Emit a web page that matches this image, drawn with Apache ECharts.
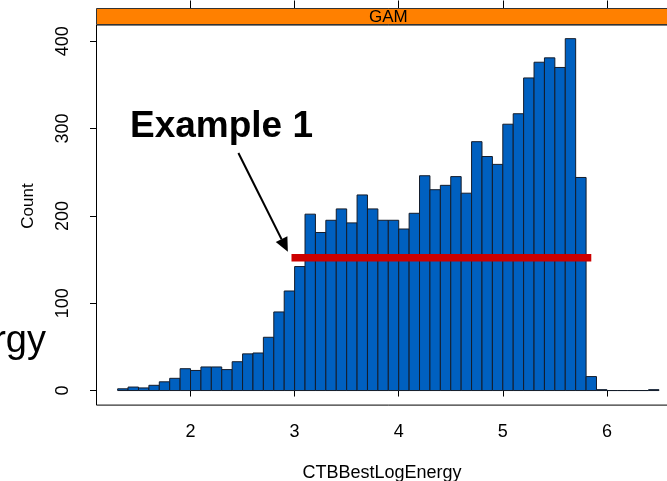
<!DOCTYPE html>
<html>
<head>
<meta charset="utf-8">
<script src="https://cdn.jsdelivr.net/npm/echarts@6/dist/echarts.min.js"></script>
<style>
  html, body { margin: 0; padding: 0; background: #ffffff; overflow: hidden; width: 667px; height: 481px; }
  /* the drawing surface is wider than the window: the panel runs off the right edge */
  #chart { width: 700px; height: 481px; }
</style>
</head>
<body>
<div id="chart"></div>
<script>
// Histogram of CTBBestLogEnergy for the GAM panel (bins of width 0.1)
const binLeft = [
  1.3, 1.4, 1.5, 1.6, 1.7, 1.8, 1.9, 2.0, 2.1, 2.2,
  2.3, 2.4, 2.5, 2.6, 2.7, 2.8, 2.9, 3.0, 3.1, 3.2,
  3.3, 3.4, 3.5, 3.6, 3.7, 3.8, 3.9, 4.0, 4.1, 4.2,
  4.3, 4.4, 4.5, 4.6, 4.7, 4.8, 4.9, 5.0, 5.1, 5.2,
  5.3, 5.4, 5.5, 5.6, 5.7, 5.8, 5.9, 6.0, 6.1, 6.2,
  6.3, 6.4
];
const binRight = [
  1.4, 1.5, 1.6, 1.7, 1.8, 1.9, 2.0, 2.1, 2.2, 2.3,
  2.4, 2.5, 2.6, 2.7, 2.8, 2.9, 3.0, 3.1, 3.2, 3.3,
  3.4, 3.5, 3.6, 3.7, 3.8, 3.9, 4.0, 4.1, 4.2, 4.3,
  4.4, 4.5, 4.6, 4.7, 4.8, 4.9, 5.0, 5.1, 5.2, 5.3,
  5.4, 5.5, 5.6, 5.7, 5.8, 5.9, 6.0, 6.1, 6.2, 6.3,
  6.4, 6.5
];
const counts = [
  2, 4, 3, 6, 10, 14, 25, 23, 27, 27,
  24, 33, 42, 43, 61, 90, 114, 142, 202, 181,
  195, 208, 192, 224, 208, 195, 195, 185, 203, 246,
  230, 235, 245, 226, 285, 268, 259, 305, 317, 358,
  376, 381, 370, 403, 244, 16, 1, 0, 0, 0,
  0, 1
];

const xTicks = [2, 3, 4, 5, 6];
const yTicks = [0, 100, 200, 300, 400];

const panelName = 'GAM';
const xTitle = 'CTBBestLogEnergy';
const yTitle = 'Count';
const calloutText = 'Example 1';
const sideText = 'Energy';

// Reference level drawn across the histogram
const refLevel = [152];
const refSpan = [2.97, 5.85];
// Arrow pointing from the callout to the left end of the reference level
const arrowTail = [2.46, 272];
const arrowHead = [2.935, 159];

const FONT = '"Liberation Sans", Arial, Helvetica, sans-serif';

const histData = binLeft.map((l, i) => [l, binRight[i], counts[i]]);

const chart = echarts.init(document.getElementById('chart'), null, { renderer: 'canvas' });

const grid = { left: 96, width: 584.6, top: 24.5, height: 380.1 };

chart.setOption({
  animation: false,
  backgroundColor: '#ffffff',
  grid: Object.assign({ show: false, containLabel: false }, grid),
  xAxis: [
    {
      type: 'value', min: 1.092, max: 6.708,
      position: 'bottom',
      axisLine: { show: false },
      splitLine: { show: false },
      axisTick: { show: true, customValues: xTicks, length: 6, lineStyle: { color: '#000', width: 1 } },
      axisLabel: { show: true, customValues: xTicks, margin: 18, color: '#000', fontSize: 18, fontFamily: FONT }
    },
    {
      type: 'value', min: 1.092, max: 6.708,
      position: 'top', offset: 16,
      axisLine: { show: false },
      splitLine: { show: false },
      axisTick: { show: true, customValues: xTicks, length: 8, lineStyle: { color: '#000', width: 1 } },
      axisLabel: { show: false }
    }
  ],
  yAxis: {
    type: 'value', min: -16.1, max: 419.2,
    axisLine: { show: false },
    splitLine: { show: false },
    axisTick: { show: true, customValues: yTicks, length: 6, lineStyle: { color: '#000', width: 1 } },
    axisLabel: { show: true, customValues: yTicks, rotate: 90, margin: 24, color: '#000', fontSize: 18, fontFamily: FONT }
  },
  series: [
    {
      type: 'custom',
      name: 'counts',
      xAxisIndex: 0,
      data: histData,
      z: 2,
      renderItem: function (params, api) {
        const a = api.coord([api.value(0), 0]);
        const b = api.coord([api.value(1), api.value(2)]);
        return {
          type: 'rect',
          shape: { x: a[0], y: b[1], width: b[0] - a[0], height: a[1] - b[1] },
          style: { fill: '#0060c0', stroke: '#141c2a', lineWidth: 1 }
        };
      }
    },
    {
      type: 'line',
      name: 'level',
      xAxisIndex: 0,
      data: refSpan.map(x => [x, refLevel[0]]),
      symbol: 'none',
      z: 5,
      lineStyle: { color: '#cc0000', width: 7.5, cap: 'butt' }
    }
  ]
});

// Panel frame, strip, titles and callout annotation
const tl = [grid.left, grid.top];
const br = [grid.left + grid.width, grid.top + grid.height];
const tail = chart.convertToPixel({ xAxisIndex: 0, yAxisIndex: 0 }, arrowTail);
const head = chart.convertToPixel({ xAxisIndex: 0, yAxisIndex: 0 }, arrowHead);
const ang = Math.atan2(head[1] - tail[1], head[0] - tail[0]);
const aLen = 14, aHalf = 6.5;
const base = [head[0] - aLen * Math.cos(ang), head[1] - aLen * Math.sin(ang)];
const perp = [-Math.sin(ang), Math.cos(ang)];

chart.setOption({
  graphic: [
    {
      type: 'rect', z: 10, silent: true,
      shape: { x: tl[0] + 0.5, y: tl[1] + 0.5, width: br[0] - tl[0], height: br[1] - tl[1] },
      style: { fill: 'none', stroke: '#000', lineWidth: 1 }
    },
    {
      type: 'rect', z: 11, silent: true,
      shape: { x: tl[0] + 0.5, y: 8.5, width: br[0] - tl[0], height: tl[1] - 8.5 },
      style: { fill: '#ff8000', stroke: '#333', lineWidth: 1 }
    },
    {
      type: 'text', z: 12, silent: true,
      x: (tl[0] + br[0]) / 2, y: 17,
      style: { text: panelName, fill: '#000', font: '17px ' + FONT, align: 'center', verticalAlign: 'middle' }
    },
    {
      type: 'text', z: 12, silent: true,
      x: 382, y: 473,
      style: { text: xTitle, fill: '#000', font: '18px ' + FONT, align: 'center', verticalAlign: 'middle' }
    },
    {
      type: 'text', z: 12, silent: true,
      x: 28, y: 206, rotation: Math.PI / 2,
      style: { text: yTitle, fill: '#000', font: '17px ' + FONT, align: 'center', verticalAlign: 'middle' }
    },
    {
      type: 'text', z: 12, silent: true,
      x: 46, y: 342,
      style: { text: sideText, fill: '#000', font: '38px ' + FONT, align: 'right', verticalAlign: 'middle' }
    },
    {
      type: 'text', z: 12, silent: true,
      x: 130, y: 127,
      style: { text: calloutText, fill: '#000', font: 'bold 37px ' + FONT, align: 'left', verticalAlign: 'middle' }
    },
    {
      type: 'line', z: 12, silent: true,
      shape: { x1: tail[0], y1: tail[1], x2: base[0], y2: base[1] },
      style: { stroke: '#000', lineWidth: 2 }
    },
    {
      type: 'polygon', z: 12, silent: true,
      shape: { points: [
        head,
        [base[0] + perp[0] * aHalf, base[1] + perp[1] * aHalf],
        [base[0] - perp[0] * aHalf, base[1] - perp[1] * aHalf]
      ] },
      style: { fill: '#000' }
    }
  ]
});
</script>
</body>
</html>
